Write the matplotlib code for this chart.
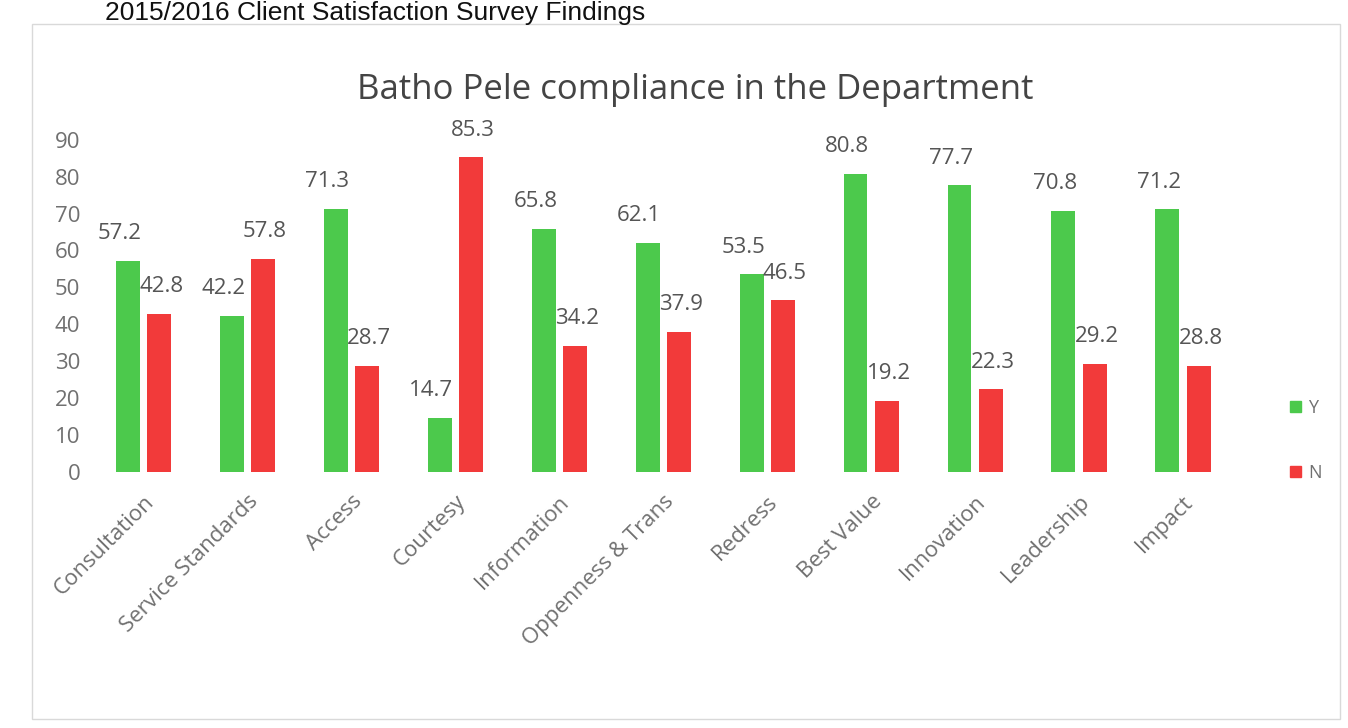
import matplotlib
matplotlib.use("Agg")
import matplotlib.pyplot as plt
import numpy as np
from matplotlib.patches import Rectangle

categories = ["Consultation", "Service Standards", "Access", "Courtesy", "Information",
              "Oppenness & Trans", "Redress", "Best Value", "Innovation", "Leadership", "Impact"]
yes_values = [57.2, 42.2, 71.3, 14.7, 65.8, 62.1, 53.5, 80.8, 77.7, 70.8, 71.2]
no_values = [42.8, 57.8, 28.7, 85.3, 34.2, 37.9, 46.5, 19.2, 22.3, 29.2, 28.8]
y_ticks = [0, 10, 20, 30, 40, 50, 60, 70, 80, 90]

GREEN = "#4cc94c"
RED = "#f23a3a"
GREY = "#707070"
FONT = "Open Sans"

fig = plt.figure(figsize=(13.48, 7.28), dpi=100)
fig.patch.set_facecolor("white")

# outer chart-area frame
fig.patches.append(Rectangle((0.024, 0.012), 0.97, 0.955, transform=fig.transFigure,
                             fill=False, edgecolor="#d9d9d9", linewidth=1.0))

# page heading above the chart
fig.text(0.078, 0.999, "2015/2016 Client Satisfaction Survey Findings", family="Liberation Sans",
         fontsize=19, color="#111111", ha="left", va="top")

ax = fig.add_axes([0.074, 0.352, 0.846, 0.456])
x = np.arange(len(categories))
w = 0.23
off = 0.15
ax.bar(x - off, yes_values, width=w, color=GREEN, label="Y")
ax.bar(x + off, no_values, width=w, color=RED, label="N")

for xi, v in zip(x, yes_values):
    ax.text(xi - off - 0.08, v + 4.5, f"{v}", ha="center", va="bottom",
            family=FONT, fontsize=16, color="#555555")
for xi, v in zip(x, no_values):
    ax.text(xi + off + 0.02, v + 4.5, f"{v}", ha="center", va="bottom",
            family=FONT, fontsize=16, color="#555555")

ax.set_xlim(-0.42, 10.55)
ax.set_ylim(0, 90)
ax.set_yticks(y_ticks)
ax.set_yticklabels([str(t) for t in y_ticks], family=FONT, fontsize=16, color=GREY)
ax.set_xticks(x)
ax.set_xticklabels(categories, rotation=45, ha="right", rotation_mode="anchor",
                   family=FONT, fontsize=16, color=GREY)
ax.tick_params(axis="y", length=0, pad=14)
ax.tick_params(axis="x", length=0, pad=14)
for s in ax.spines.values():
    s.set_visible(False)

fig.text(0.516, 0.877, "Batho Pele compliance in the Department", family=FONT,
         fontsize=25, color="#444444", ha="center", va="center")

# legend at the right
leg = fig.legend(handles=[Rectangle((0, 0), 1, 1, color=GREEN), Rectangle((0, 0), 1, 1, color=RED)],
                 labels=["Y", "N"], loc="center left", bbox_to_anchor=(0.945, 0.395),
                 frameon=False, handlelength=0.6, handleheight=0.6, labelspacing=2.6,
                 handletextpad=0.4, prop={"family": FONT, "size": 13})
for t in leg.get_texts():
    t.set_color(GREY)

fig.savefig("out.png", dpi=100)
